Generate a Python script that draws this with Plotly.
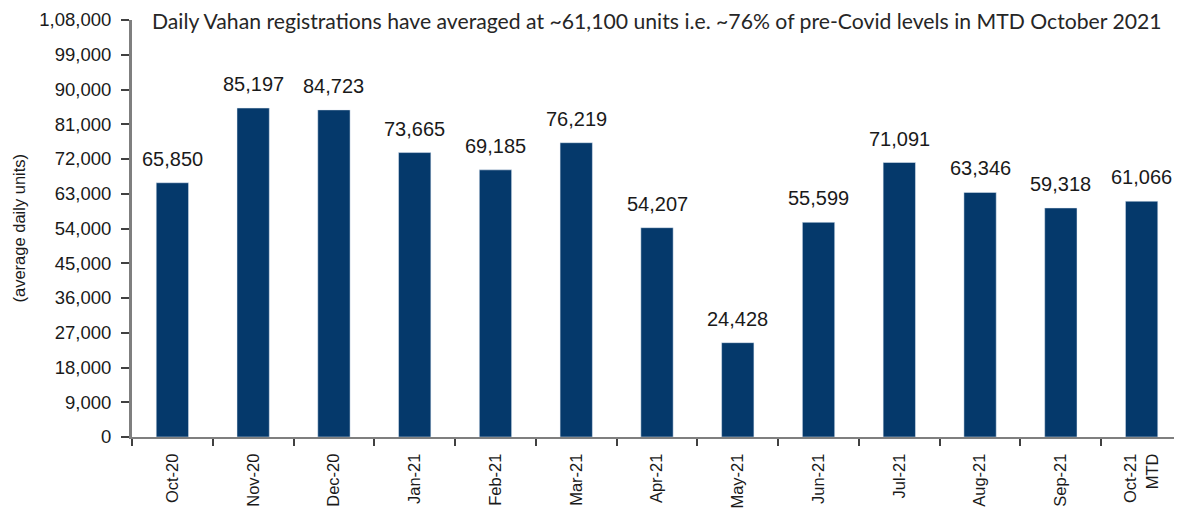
import plotly.graph_objects as go

categories = ["Oct-20", "Nov-20", "Dec-20", "Jan-21", "Feb-21", "Mar-21", "Apr-21",
              "May-21", "Jun-21", "Jul-21", "Aug-21", "Sep-21", "Oct-21<br>MTD"]
values = [65850, 85197, 84723, 73665, 69185, 76219, 54207, 24428, 55599, 71091, 63346, 59318, 61066]
tick_vals = [0, 9000, 18000, 27000, 36000, 45000, 54000, 63000, 72000, 81000, 90000, 99000, 108000]
tick_text = ["0", "9,000", "18,000", "27,000", "36,000", "45,000", "54,000", "63,000",
             "72,000", "81,000", "90,000", "99,000", "1,08,000"]
title_text = "Daily Vahan registrations have averaged at ~61,100 units i.e. ~76% of pre-Covid levels in MTD October 2021"
y_title = "(average daily units)"

BAR = "#05396B"
TXT = "#1a1a1a"
NUM_FONT = "Liberation Sans, Arial"

# page body has an 8px default margin; size the figure to fit the 1182x509 window
OFF = 8
W, H = 1182 - OFF, 509 - OFF
L, T, B, R = 132 - OFF, 20 - OFF, 72, 0
PW = W - L - R

fig = go.Figure()
fig.add_trace(go.Bar(x=list(range(len(categories))), y=values, marker_color=BAR,
                     width=0.4, hoverinfo="skip"))

for i, v in enumerate(values):
    fig.add_annotation(x=i, y=v, text=f"{v:,}", showarrow=False, yanchor="bottom",
                       yshift=11, font=dict(family=NUM_FONT, size=20, color=TXT))

fig.add_annotation(x=(657 - 132) / PW, xref="paper", y=1.0, yref="paper", yanchor="middle",
                   xanchor="center", yshift=-1,
                   text=title_text, showarrow=False,
                   font=dict(family="Lato, Noto Sans, sans-serif", size=21.2, color="#262626"))

fig.add_annotation(x=-(132 - 18) / PW, xref="paper", xanchor="center", y=0.5, yref="paper",
                   text=y_title, textangle=-90, showarrow=False,
                   font=dict(family=NUM_FONT, size=16.5, color=TXT))

fig.update_layout(
    width=W, height=H,
    margin=dict(l=L, r=R, t=T, b=B),
    plot_bgcolor="white", paper_bgcolor="white",
    showlegend=False,
)

fig.update_xaxes(
    range=[-0.5, 12.5], automargin=False,
    tickmode="array", tickvals=list(range(len(categories))), ticktext=categories,
    tickangle=-90, ticks="", showgrid=False,
    showline=True, linecolor="#7f7f7f", linewidth=2,
    tickfont=dict(family=NUM_FONT, size=16.5, color=TXT),
    ticklabelstandoff=8,
)
fig.update_xaxes(minor=dict(tickmode="array", tickvals=[i + 0.5 for i in range(-1, 13)],
                            ticks="outside", ticklen=7, tickcolor="#404040", tickwidth=2))

fig.update_yaxes(
    range=[0, 108000], automargin=False,
    tickmode="array", tickvals=tick_vals, ticktext=tick_text,
    ticks="outside", ticklen=8, tickcolor="#404040", tickwidth=2,
    showgrid=False, zeroline=False,
    showline=True, linecolor="#7f7f7f", linewidth=3,
    tickfont=dict(family=NUM_FONT, size=18.5, color=TXT),
    ticklabelstandoff=6,
)

fig.write_html("out.html")
